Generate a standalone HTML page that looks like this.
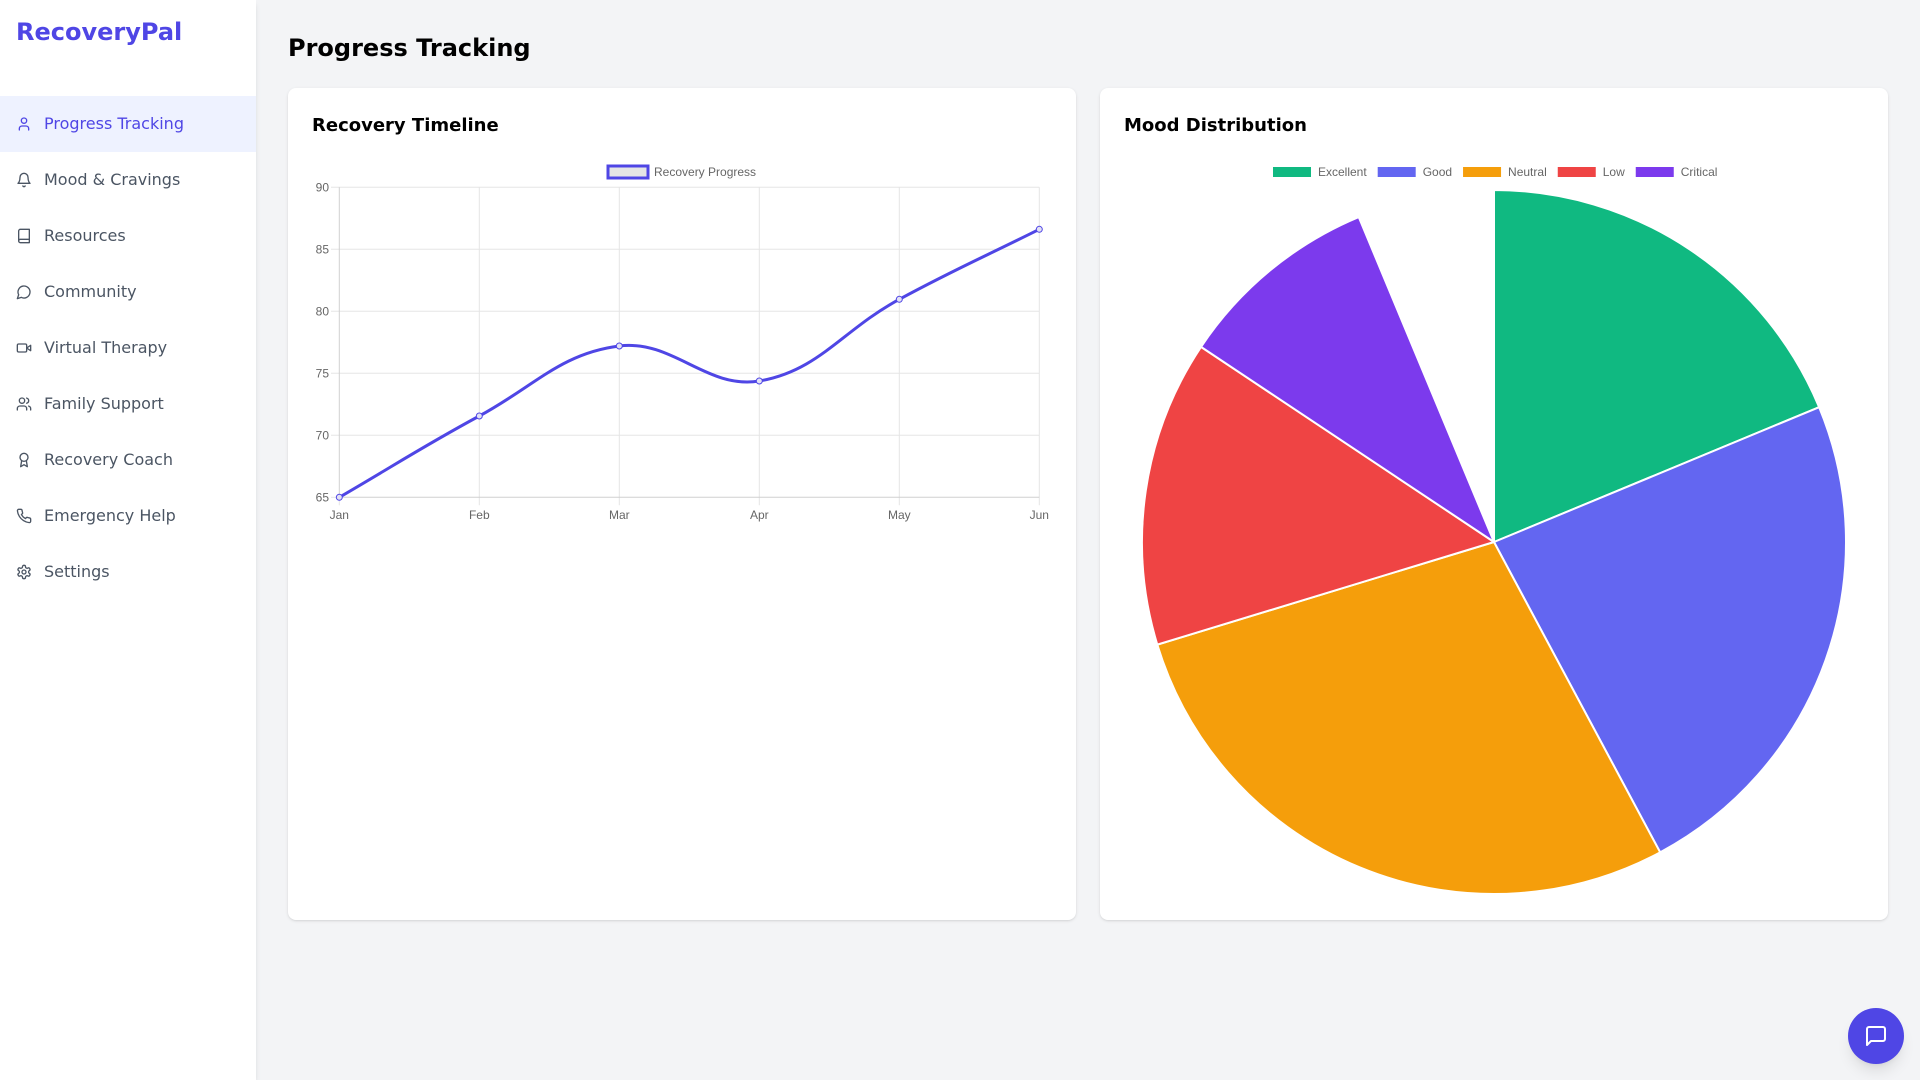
<!DOCTYPE html>
<html>
<head>
<meta charset="utf-8">
<style>
  html, body { margin:0; padding:0; }
  body { width:1920px; height:1080px; overflow:hidden; background:#f3f4f6; position:relative; font-family:"DejaVu Sans","Liberation Sans",sans-serif; }
  .sidebar { position:absolute; left:0; top:0; width:256px; height:1080px; background:#fff; box-shadow:0 4px 6px -1px rgba(0,0,0,.1), 0 2px 4px -2px rgba(0,0,0,.1); }
  .logo { position:absolute; left:16px; top:16px; font-weight:700; font-size:24px; line-height:32px; color:#4f46e5; }
  .nav { position:absolute; left:0; width:256px; height:56px; display:flex; align-items:center; box-sizing:border-box; padding-left:16px; font-size:16px; line-height:24px; color:#4b5563; }
  .nav svg { width:16px; height:16px; margin-right:12px; flex:none; fill:none; stroke:currentColor; stroke-width:2; stroke-linecap:round; stroke-linejoin:round; }
  .nav.active { background:#eef2ff; color:#4f46e5; }
  .title { position:absolute; left:288px; top:32px; font-weight:700; font-size:24px; line-height:32px; color:#000; }
  .card { position:absolute; top:88px; width:788px; height:832px; background:#fff; border-radius:8px; box-shadow:0 1px 3px 0 rgba(0,0,0,.1), 0 1px 2px -1px rgba(0,0,0,.1); }
  .ctitle { position:absolute; top:112px; font-weight:700; font-size:18px; line-height:28px; color:#000; }
  .chat { position:absolute; left:1848px; top:1008px; width:56px; height:56px; border-radius:50%; background:#4f46e5; box-shadow:0 10px 15px -3px rgba(0,0,0,.1), 0 4px 6px -4px rgba(0,0,0,.1); display:flex; align-items:center; justify-content:center; }
  .chat svg { width:24px; height:24px; fill:none; stroke:#fff; stroke-width:2; stroke-linecap:round; stroke-linejoin:round; }
  svg.overlay { position:absolute; left:0; top:0; }
</style>
</head>
<body>
<div class="sidebar">
  <div class="logo">RecoveryPal</div>
  <div class="nav active" style="top:96px"><svg viewBox="0 0 24 24"><path d="M19 21v-2a4 4 0 0 0-4-4H9a4 4 0 0 0-4 4v2"/><circle cx="12" cy="7" r="4"/></svg>Progress Tracking</div>
  <div class="nav" style="top:152px"><svg viewBox="0 0 24 24"><path d="M6 8a6 6 0 0 1 12 0c0 7 3 9 3 9H3s3-2 3-9"/><path d="M10.3 21a1.94 1.94 0 0 0 3.4 0"/></svg>Mood &amp; Cravings</div>
  <div class="nav" style="top:208px"><svg viewBox="0 0 24 24"><path d="M4 19.5v-15A2.5 2.5 0 0 1 6.5 2H20v20H6.5a2.5 2.5 0 0 1 0-5H20"/></svg>Resources</div>
  <div class="nav" style="top:264px"><svg viewBox="0 0 24 24"><path d="M7.9 20A9 9 0 1 0 4 16.1L2 22Z"/></svg>Community</div>
  <div class="nav" style="top:320px"><svg viewBox="0 0 24 24"><path d="m22 8-6 4 6 4V8Z"/><rect width="14" height="12" x="2" y="6" rx="2" ry="2"/></svg>Virtual Therapy</div>
  <div class="nav" style="top:376px"><svg viewBox="0 0 24 24"><path d="M16 21v-2a4 4 0 0 0-4-4H6a4 4 0 0 0-4 4v2"/><circle cx="9" cy="7" r="4"/><path d="M22 21v-2a4 4 0 0 0-3-3.87"/><path d="M16 3.13a4 4 0 0 1 0 7.75"/></svg>Family Support</div>
  <div class="nav" style="top:432px"><svg viewBox="0 0 24 24"><circle cx="12" cy="8" r="6"/><path d="M15.477 12.89 17 22l-5-3-5 3 1.523-9.11"/></svg>Recovery Coach</div>
  <div class="nav" style="top:488px"><svg viewBox="0 0 24 24"><path d="M22 16.92v3a2 2 0 0 1-2.18 2 19.79 19.79 0 0 1-8.63-3.07 19.5 19.5 0 0 1-6-6 19.79 19.79 0 0 1-3.07-8.67A2 2 0 0 1 4.11 2h3a2 2 0 0 1 2 1.72 12.84 12.84 0 0 0 .7 2.81 2 2 0 0 1-.45 2.11L8.09 9.91a16 16 0 0 0 6 6l1.27-1.27a2 2 0 0 1 2.11-.45 12.84 12.84 0 0 0 2.81.7A2 2 0 0 1 22 16.92z"/></svg>Emergency Help</div>
  <div class="nav" style="top:544px"><svg viewBox="0 0 24 24"><path d="M12.22 2h-.44a2 2 0 0 0-2 2v.18a2 2 0 0 1-1 1.73l-.43.25a2 2 0 0 1-2 0l-.15-.08a2 2 0 0 0-2.73.73l-.22.38a2 2 0 0 0 .73 2.730l.15.1a2 2 0 0 1 1 1.72v.51a2 2 0 0 1-1 1.74l-.15.09a2 2 0 0 0-.73 2.73l.22.38a2 2 0 0 0 2.73.73l.15-.08a2 2 0 0 1 2 0l.43.25a2 2 0 0 1 1 1.73V20a2 2 0 0 0 2 2h.44a2 2 0 0 0 2-2v-.18a2 2 0 0 1 1-1.73l.43-.25a2 2 0 0 1 2 0l.15.08a2 2 0 0 0 2.73-.73l.22-.39a2 2 0 0 0-.73-2.73l-.15-.08a2 2 0 0 1-1-1.74v-.5a2 2 0 0 1 1-1.74l.15-.09a2 2 0 0 0 .73-2.73l-.22-.38a2 2 0 0 0-2.73-.73l-.15.08a2 2 0 0 1-2 0l-.43-.25a2 2 0 0 1-1-1.73V4a2 2 0 0 0-2-2z"/><circle cx="12" cy="12" r="3"/></svg>Settings</div>
</div>

<div class="title">Progress Tracking</div>
<div class="card" style="left:288px"></div>
<div class="card" style="left:1100px"></div>
<div class="ctitle" style="left:312px">Recovery Timeline</div>
<div class="ctitle" style="left:1124px">Mood Distribution</div>

<svg class="overlay" width="1920" height="1080" viewBox="0 0 1920 1080" xmlns="http://www.w3.org/2000/svg" font-family="'Liberation Sans', Arial, sans-serif" font-size="12">
  <!-- Line chart legend -->
  <rect x="608" y="166" width="40" height="12" fill="rgba(0,0,0,0.1)" stroke="#4f46e5" stroke-width="3"/>
  <text x="654" y="176.2" fill="#666">Recovery Progress</text>

  <!-- grid horizontal -->
  <g stroke="#e5e5e5" stroke-width="1">
    <line x1="331" y1="187.3" x2="1039.3" y2="187.3"/>
    <line x1="331" y1="249.3" x2="1039.3" y2="249.3"/>
    <line x1="331" y1="311.3" x2="1039.3" y2="311.3"/>
    <line x1="331" y1="373.3" x2="1039.3" y2="373.3"/>
    <line x1="331" y1="435.3" x2="1039.3" y2="435.3"/>
    <line x1="331" y1="497.3" x2="339.3" y2="497.3"/>
    <line x1="479.3" y1="187.3" x2="479.3" y2="505.3"/>
    <line x1="619.3" y1="187.3" x2="619.3" y2="505.3"/>
    <line x1="759.3" y1="187.3" x2="759.3" y2="505.3"/>
    <line x1="899.3" y1="187.3" x2="899.3" y2="505.3"/>
    <line x1="1039.3" y1="187.3" x2="1039.3" y2="505.3"/>
    <line x1="339.3" y1="497.3" x2="339.3" y2="505.3"/>
  </g>
  <g stroke="#d0d0d0" stroke-width="1">
    <line x1="339.3" y1="187.3" x2="339.3" y2="497.3"/>
    <line x1="339.3" y1="497.3" x2="1039.3" y2="497.3"/>
  </g>
  <!-- y labels -->
  <g fill="#666" text-anchor="end">
    <text x="329" y="191.5">90</text>
    <text x="329" y="253.5">85</text>
    <text x="329" y="315.5">80</text>
    <text x="329" y="377.5">75</text>
    <text x="329" y="439.5">70</text>
    <text x="329" y="501.5">65</text>
  </g>
  <!-- x labels -->
  <g fill="#666" text-anchor="middle">
    <text x="339.3" y="519">Jan</text>
    <text x="479.3" y="519">Feb</text>
    <text x="619.3" y="519">Mar</text>
    <text x="759.3" y="519">Apr</text>
    <text x="899.3" y="519">May</text>
    <text x="1039.3" y="519">Jun</text>
  </g>
  <!-- line -->
  <path d="M339.3,497.3 C395.3,464.78 422.35,446.77 479.3,416 C534.35,386.25 561.03,353.28 619.3,346 C673.03,339.28 706.55,389.8 759.3,381 C818.55,371.12 842.32,330.17 899.3,299.3 C954.32,269.49 983.3,257.3 1039.3,229.3" fill="none" stroke="#4f46e5" stroke-width="3" stroke-linejoin="round"/>
  <g fill="#e2e1f5" stroke="#4f46e5" stroke-width="1">
    <circle cx="339.3" cy="497.3" r="3"/>
    <circle cx="479.3" cy="416" r="3"/>
    <circle cx="619.3" cy="346" r="3"/>
    <circle cx="759.3" cy="381" r="3"/>
    <circle cx="899.3" cy="299.3" r="3"/>
    <circle cx="1039.3" cy="229.3" r="3"/>
  </g>

  <!-- Pie legend -->
  <g stroke="#fff" stroke-width="2">
    <rect x="1272" y="166" width="40" height="12" fill="#10b981"/>
    <rect x="1376.7" y="166" width="40" height="12" fill="#6366f1"/>
    <rect x="1462.05" y="166" width="40" height="12" fill="#f59e0b"/>
    <rect x="1556.75" y="166" width="40" height="12" fill="#ef4444"/>
    <rect x="1634.75" y="166" width="40" height="12" fill="#7c3aed"/>
  </g>
  <g fill="#666">
    <text x="1318" y="176.2">Excellent</text>
    <text x="1422.7" y="176.2">Good</text>
    <text x="1508.05" y="176.2">Neutral</text>
    <text x="1602.75" y="176.2">Low</text>
    <text x="1680.75" y="176.2">Critical</text>
  </g>
  <!-- Pie -->
  <g stroke="#fff" stroke-width="2" stroke-linejoin="round">
    <path d="M1494,542 L1494,190 A352,352 0 0 1 1819.16,407.19 Z" fill="#10b981"/>
    <path d="M1494,542 L1819.16,407.19 A352,352 0 0 1 1660.16,852.32 Z" fill="#6366f1"/>
    <path d="M1494,542 L1660.16,852.32 A352,352 0 0 1 1157.29,644.63 Z" fill="#f59e0b"/>
    <path d="M1494,542 L1157.29,644.63 A352,352 0 0 1 1201.02,346.89 Z" fill="#ef4444"/>
    <path d="M1494,542 L1201.02,346.89 A352,352 0 0 1 1358.73,217.03 Z" fill="#7c3aed"/>
  </g>
</svg>

<div class="chat"><svg viewBox="0 0 24 24"><path d="M21 15a2 2 0 0 1-2 2H7l-4 4V5a2 2 0 0 1 2-2h14a2 2 0 0 1 2 2z"/></svg></div>
</body>
</html>
